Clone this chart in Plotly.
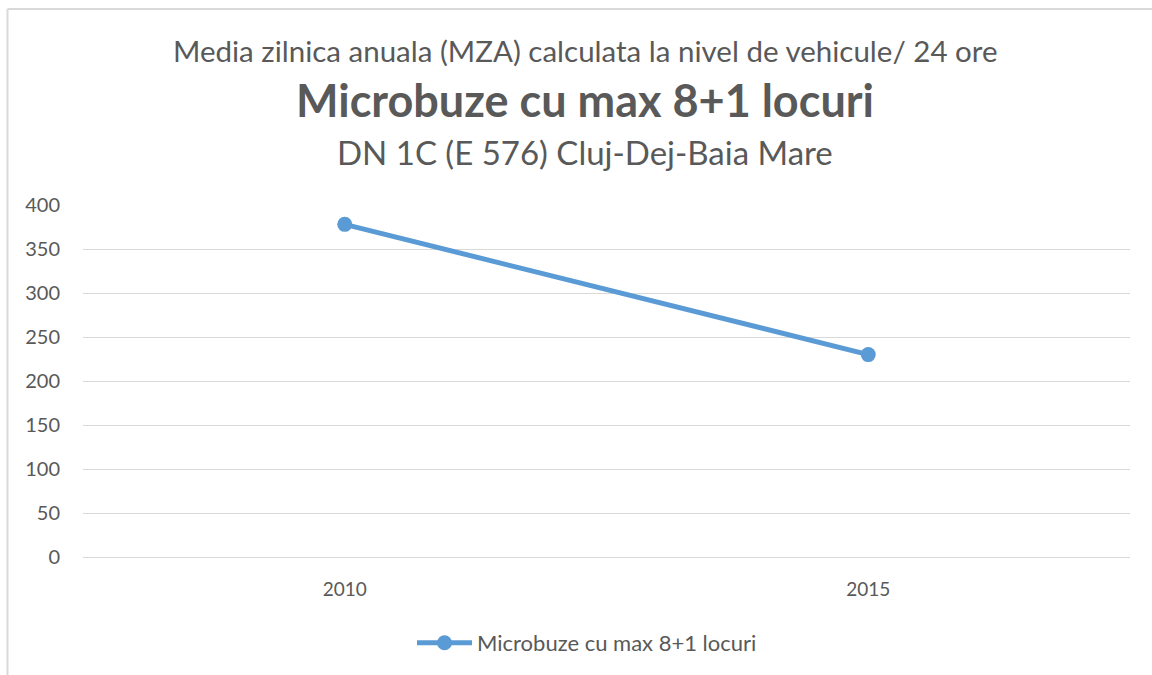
import plotly.graph_objects as go

years = ["2010", "2015"]
values = [378, 230]
series_name = "Microbuze cu max 8+1 locuri"
title_1 = "Media zilnica anuala (MZA) calculata la nivel de vehicule/ 24 ore"
title_2 = "Microbuze cu max 8+1 locuri"
title_3 = "DN 1C (E 576) Cluj-Dej-Baia Mare"
y_ticks = [0, 50, 100, 150, 200, 250, 300, 350, 400]

W, H = 1152, 675
L, R, T, B = 83, 22, 205, 117
pw = W - L - R
ph = H - T - B

def px(x):
    return (x - L) / pw

def py(y):
    return (H - B - y) / ph

FONT = "Lato"
GREY = "#595959"
BLUE = "#5B9BD5"

fig = go.Figure()
fig.add_trace(go.Scatter(
    x=years, y=values, mode="lines+markers", name=series_name,
    line=dict(color=BLUE, width=5),
    marker=dict(color=BLUE, size=15),
))

annots = [
    dict(text=title_1, y=py(50), size=29.5, bold=False),
    dict(text=title_2, y=py(100), size=45, bold=True),
    dict(text=title_3, y=py(152), size=33, bold=False),
]
annotations = []
for a in annots:
    annotations.append(dict(
        text=("<b>%s</b>" % a["text"]) if a["bold"] else a["text"],
        xref="paper", yref="paper", x=px(585), y=a["y"],
        xanchor="center", yanchor="middle", showarrow=False,
        font=dict(family=FONT, size=a["size"], color=GREY),
    ))

fig.update_layout(
    width=W, height=H,
    margin=dict(l=L, r=R, t=T, b=B),
    paper_bgcolor="white", plot_bgcolor="white",
    font=dict(family=FONT, color=GREY, size=20),
    annotations=annotations,
    showlegend=True,
    legend=dict(orientation="h", x=px(587), xanchor="center", y=py(643), yanchor="middle",
                itemwidth=55,
                font=dict(family=FONT, size=22, color=GREY)),
    xaxis=dict(type="category", range=[-0.5, 1.5], showgrid=False,
               showline=False, zeroline=False, ticks="outside", ticklen=15,
               tickcolor="rgba(0,0,0,0)",
               tickfont=dict(family=FONT, size=19, color=GREY)),
    yaxis=dict(range=[0, 400], tickvals=y_ticks, showgrid=True, gridcolor="#d9d9d9",
               gridwidth=1, zeroline=True, zerolinecolor="#d9d9d9", zerolinewidth=1,
               showline=False, ticks="outside", ticklen=18, tickcolor="rgba(0,0,0,0)",
               tickfont=dict(family=FONT, size=20, color=GREY)),
    shapes=[
        dict(type="line", xref="paper", yref="paper", x0=px(7.5), x1=px(1160),
             y0=py(8.5), y1=py(8.5), line=dict(color="#d9d9d9", width=2)),
        dict(type="line", xref="paper", yref="paper", x0=px(7.5), x1=px(7.5),
             y0=py(8.5), y1=py(690), line=dict(color="#d9d9d9", width=2)),
    ],
)

fig.write_html("out.html", config={"displayModeBar": False},
               post_script="document.body.style.margin='0';document.body.style.overflow='hidden';")
